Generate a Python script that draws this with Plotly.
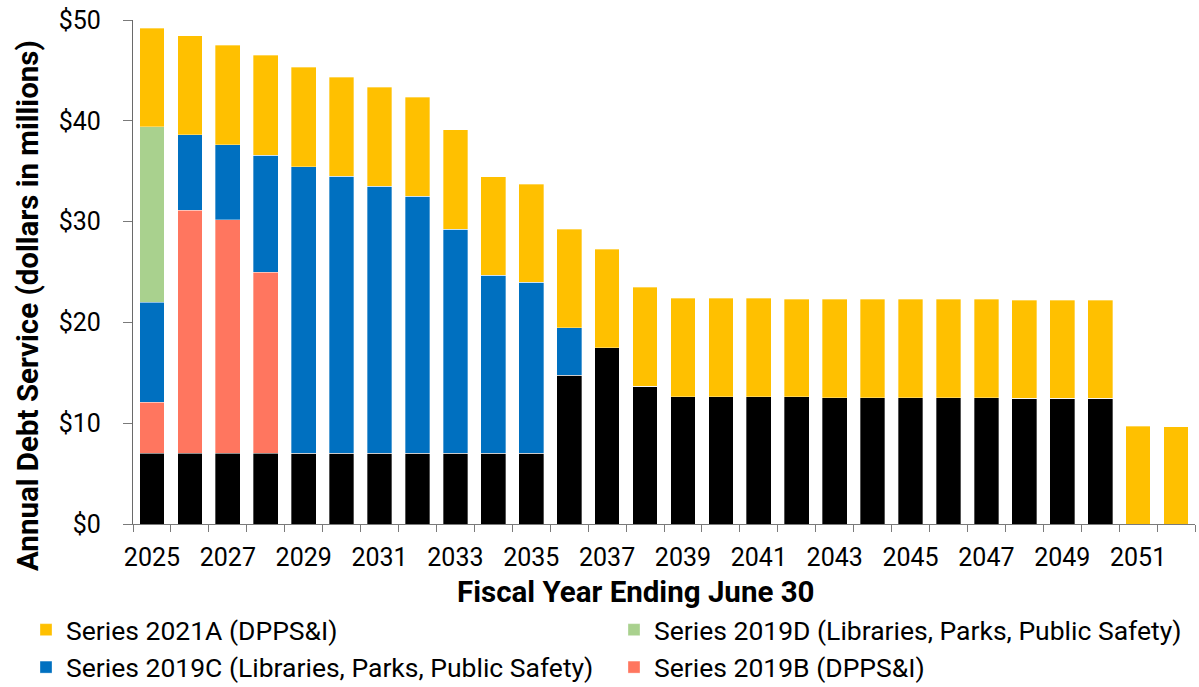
import plotly.graph_objects as go

# Fiscal years ending June 30
years = list(range(2025, 2053))

# Annual debt service by series, $ millions
existing = [7.0, 7.0, 7.0, 7.0, 7.0, 7.0, 7.0, 7.0, 7.0, 7.0, 7.0,
            14.78, 17.49, 13.69, 12.6, 12.6, 12.6, 12.6, 12.53, 12.53,
            12.53, 12.53, 12.53, 12.47, 12.47, 12.47, 0.0, 0.0]
series_2019b = [5.1, 24.15, 23.2, 18.0] + [0.0] * 24
series_2019c = [9.9, 7.45, 7.4, 11.6, 28.45, 27.5, 26.5, 25.54, 22.23,
                17.67, 16.97, 4.69] + [0.0] * 16
series_2019d = [17.4] + [0.0] * 27
series_2021a = [9.8, 9.85, 9.9, 9.9, 9.85, 9.8, 9.85, 9.8, 9.86, 9.8,
                9.76, 9.76, 9.79, 9.79, 9.79, 9.79, 9.79, 9.72, 9.79,
                9.79, 9.76, 9.76, 9.76, 9.75, 9.75, 9.75, 9.72, 9.66]

y_ticks = [0, 10, 20, 30, 40, 50]
x_tick_years = list(range(2025, 2053, 2))

FONT = "Roboto"
edge = dict(width=0.6, color="rgba(255,255,255,0.55)")

fig = go.Figure()
fig.add_bar(x=years, y=existing, marker=dict(color="#000000", line=edge),
            showlegend=False, name="Existing")
fig.add_bar(x=years, y=series_2019b, marker=dict(color="#FF765F", line=edge),
            name="Series 2019B (DPPS&I)", legend="legend2")
fig.add_bar(x=years, y=series_2019c, marker=dict(color="#0070C0", line=edge),
            name="Series 2019C (Libraries, Parks, Public Safety)", legend="legend")
fig.add_bar(x=years, y=series_2019d, marker=dict(color="#A9D18E", line=edge),
            name="Series 2019D (Libraries, Parks, Public Safety)", legend="legend2")
fig.add_bar(x=years, y=series_2021a, marker=dict(color="#FFC000", line=edge),
            name="Series 2021A (DPPS&I)", legend="legend")

L, R, T, B = 133, 4, 20, 163
W, H = 1199, 687
pw, ph = W - L - R, H - T - B


def px_x(px):
    return (px - L) / pw


def px_y(py):
    return (H - B - py) / ph


legend_style = dict(orientation="v", traceorder="reversed",
                    xref="container", yref="container",
                    y=0.118, xanchor="left", yanchor="top",
                    font=dict(size=26.5, family=FONT, color="#000000"),
                    bgcolor="rgba(0,0,0,0)",
                    itemclick=False, itemdoubleclick=False)

fig.update_layout(
    width=W, height=H,
    margin=dict(l=L, r=R, t=T, b=B, autoexpand=False),
    barmode="stack", bargap=0.35,
    plot_bgcolor="white", paper_bgcolor="white",
    font=dict(family=FONT, size=25, color="#000000"),
    showlegend=True,
    legend=dict(x=26 / W, **legend_style),
    legend2=dict(x=614 / W, **legend_style),
    xaxis=dict(range=[2024.5, 2052.5], tickmode="array",
               tickvals=x_tick_years, ticktext=[str(y) for y in x_tick_years],
               ticks="", ticklabelstandoff=11,
               showline=True, linecolor="#7a7a7a", linewidth=1.3,
               showgrid=False, zeroline=False,
               minor=dict(tick0=2024.5, dtick=1, ticks="outside", ticklen=7,
                          tickcolor="#7a7a7a", tickwidth=1.3, showgrid=False)),
    yaxis=dict(range=[0, 50], tickmode="array", tickvals=y_ticks,
               ticktext=["$" + str(v) for v in y_ticks],
               ticks="outside", ticklen=9, tickcolor="#7a7a7a", tickwidth=1.3,
               ticklabelstandoff=17,
               showline=True, linecolor="#6a6a6a", linewidth=1.3,
               showgrid=False, zeroline=False),
    annotations=[
        dict(text="<b>Fiscal Year Ending June 30</b>", xref="paper", yref="paper",
             x=px_x(636), y=px_y(592), xanchor="center", yanchor="middle",
             showarrow=False, font=dict(size=29.5)),
        dict(text="<b>Annual Debt Service (dollars in millions)</b>",
             xref="paper", yref="paper", textangle=-90,
             x=px_x(28), y=px_y(306), xanchor="center", yanchor="middle",
             showarrow=False, font=dict(size=29.5)),
    ],
)

fig.write_html("out.html")
